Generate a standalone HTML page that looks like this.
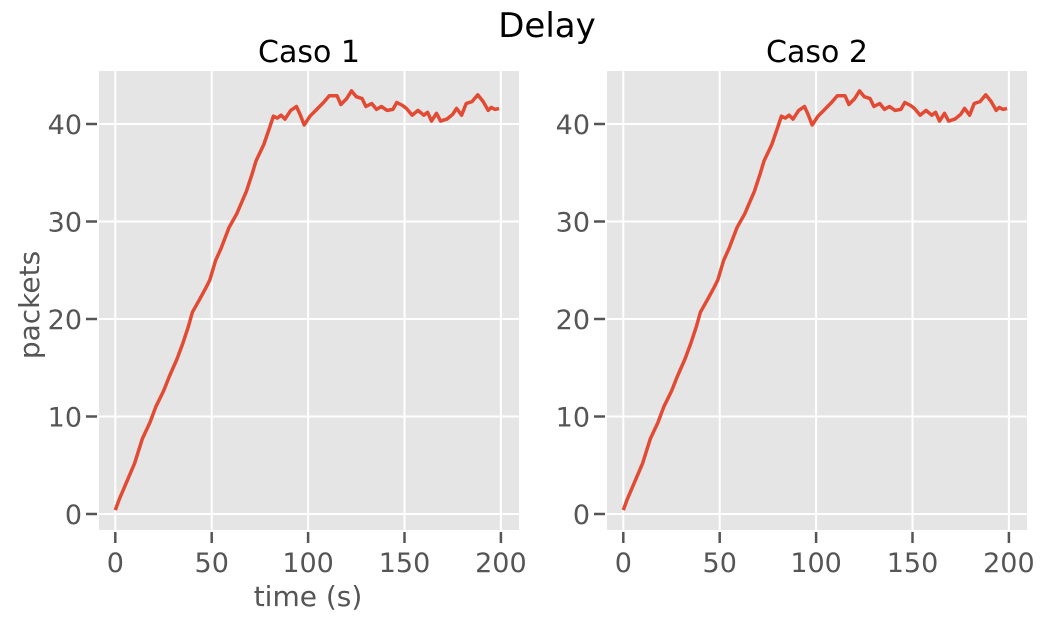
<!DOCTYPE html>
<html><head><meta charset="utf-8"><style>
body{margin:0;background:#fff;}
svg text{font-family:"DejaVu Sans","Liberation Sans",sans-serif;}
</style></head><body>
<svg id="chart" width="1044" height="621" xmlns="http://www.w3.org/2000/svg">
<text x="547" y="37" font-size="34" text-anchor="middle" fill="#000">Delay</text>
<g id="panels"></g>
<text x="308" y="606" font-size="28" text-anchor="middle" fill="#555">time (s)</text>
<text transform="translate(39,305) rotate(-90)" font-size="28" text-anchor="middle" fill="#555">packets</text>
</svg>
<script>
const times=[0,2,4,7,10,14,18,21,25,28,32,35,38,40,44,47,49,52,55,59,63,68,71,73,77,80,82,84,86,88,91,94,96,98,101,104,108,111,115,117,120,122.5,125,128,130,133,135.5,138,141,144,146,149,151,154,157,160,162,164,166.6,168.7,172,175,177,179.6,182,185,188,190.8,193.4,195,197,199];
const caso1=[0.4,1.5,2.4,3.8,5.2,7.7,9.4,11,12.6,14.1,15.9,17.5,19.3,20.7,22.1,23.2,24,26,27.3,29.4,30.8,33.1,34.9,36.2,37.9,39.6,40.8,40.6,40.9,40.5,41.4,41.8,40.9,39.9,40.8,41.4,42.2,42.9,42.9,42,42.6,43.4,42.8,42.6,41.8,42.1,41.5,41.8,41.4,41.5,42.2,41.9,41.6,40.9,41.4,40.9,41.2,40.3,41.1,40.3,40.5,41,41.6,40.9,42.1,42.3,43,42.3,41.4,41.7,41.5,41.6];
const caso2=caso1.slice();
const xTicks=[0,50,100,150,200];
const yTicks=[0,10,20,30,40];
const panelNames=["Caso 1","Caso 2"];
const seriesList=[caso1,caso2];

const NS="http://www.w3.org/2000/svg";
const root=document.getElementById('panels');
function mk(tag,attrs,parent){const e=document.createElementNS(NS,tag);for(const k in attrs)e.setAttribute(k,attrs[k]);parent.appendChild(e);return e;}
const panelW=420,plotTop=71,plotBottom=530;
function xs(v,off){return off+115.3+v*1.928;}
function ys(v){return 514-v*9.75;}
panelNames.forEach((name,i)=>{
  const off=i*508;
  const g=mk('g',{},root);
  
  
  const bg=mk('rect',{x:99+off,y:plotTop,width:panelW,height:plotBottom-plotTop,fill:'#e5e5e5'},g);
  
  
  const t=mk('text',{x:99+off+panelW/2,y:62,'font-size':30,'text-anchor':'middle',fill:'#000'},g);
  t.textContent=name;
  
  
  xTicks.forEach(v=>{
    const x=xs(v,off);
    const gl=mk('line',{x1:x,x2:x,y1:plotTop,y2:plotBottom,stroke:'#fff','stroke-width':2},g);
    
    
    mk('line',{x1:x,x2:x,y1:532,y2:543,stroke:'#555','stroke-width':2.5},g);
    const tl=mk('text',{x:x,y:572,'font-size':27,'text-anchor':'middle',fill:'#555'},g);
    tl.textContent=v;
    
    
  });
  yTicks.forEach(v=>{
    const y=ys(v);
    const gl=mk('line',{x1:99+off,x2:99+off+panelW,y1:y,y2:y,stroke:'#fff','stroke-width':2},g);
    
    
    mk('line',{x1:86+off,x2:97+off,y1:y,y2:y,stroke:'#555','stroke-width':2.5},g);
    const tl=mk('text',{x:82+off,y:y+10,'font-size':27,'text-anchor':'end',fill:'#555'},g);
    tl.textContent=v;
    
    
  });
  const d=times.map((tv,j)=>(j?'L':'M')+xs(tv,off).toFixed(1)+','+ys(seriesList[i][j]).toFixed(1)).join(' ');
  const p=mk('path',{d:d,fill:'none',stroke:'#e24a33','stroke-width':3.5,'stroke-linejoin':'round'},g);
  
  
});
</script>
</body></html>
